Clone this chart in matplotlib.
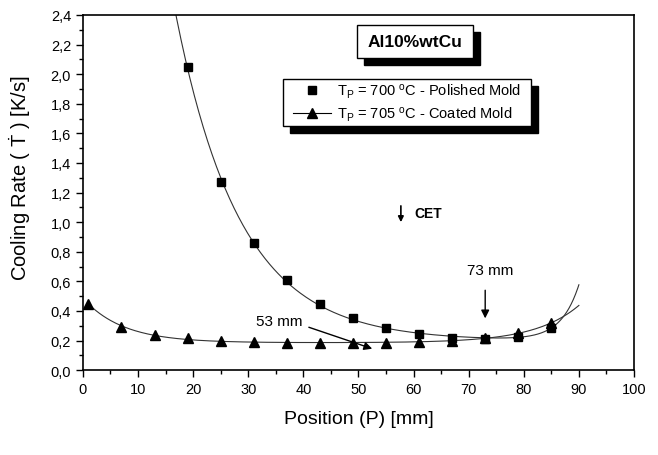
"""
Cooling rate vs position for Al10%wtCu castings
"""
import matplotlib
matplotlib.use('Agg')
import matplotlib.pyplot as plt
import numpy as np
from matplotlib.lines import Line2D
from matplotlib.patches import Rectangle
from matplotlib.ticker import MultipleLocator, FuncFormatter

plt.rcParams['font.family'] = ['Liberation Sans', 'DejaVu Sans']
plt.rcParams['mathtext.fontset'] = 'custom'
plt.rcParams['mathtext.rm'] = 'Liberation Sans'
plt.rcParams['mathtext.it'] = 'Liberation Sans:italic'

# polished mold (squares)
pos_polished = [19, 25, 31, 37, 43, 49, 55, 61, 67, 73, 79, 85]
rate_polished = [2.05, 1.27, 0.86, 0.61, 0.45, 0.35, 0.285, 0.245, 0.22, 0.21, 0.225, 0.285]

# coated mold (triangles)
pos_coated = [1, 7, 13, 19, 25, 31, 37, 43, 49, 55, 61, 67, 73, 79, 85]
rate_coated = [0.45, 0.29, 0.24, 0.215, 0.20, 0.19, 0.185, 0.185, 0.185, 0.185,
               0.19, 0.20, 0.215, 0.25, 0.32]

label_polished = r'T$_\mathrm{P}$ = 700 $^\mathrm{o}$C - Polished Mold'
label_coated = r'T$_\mathrm{P}$ = 705 $^\mathrm{o}$C - Coated Mold'


def fit_curve(x, y):
    """Fit y = a + b*exp(-x/t1) + c*exp((x-90)/t2), returns callable"""
    x = np.asarray(x, float)
    y = np.asarray(y, float)
    best = None
    for t1 in np.arange(3, 25, 0.25):
        for t2 in np.arange(2, 20, 0.25):
            A = np.column_stack([np.ones_like(x), np.exp(-x / t1), np.exp((x - 90) / t2)])
            coef, *_ = np.linalg.lstsq(A, y, rcond=None)
            err = np.sum((A @ coef - y) ** 2)
            if best is None or err < best[0]:
                best = (err, t1, t2, coef)
    _, t1, t2, (a, b, c) = best
    return lambda xx: a + b * np.exp(-xx / t1) + c * np.exp((xx - 90) / t2)


fig = plt.figure(figsize=(6.58, 4.56), dpi=100)
ax = fig.add_axes([0.126, 0.186, 0.8375, 0.779])

f_pol = fit_curve(pos_polished, rate_polished)
xp = np.linspace(10, 90, 400)
ax.plot(xp, f_pol(xp), color='#333333', lw=0.8)

f_coat = fit_curve(pos_coated, rate_coated)
xc = np.linspace(1, 90, 400)
ax.plot(xc, f_coat(xc), color='#333333', lw=0.8)

ax.plot(pos_polished, rate_polished, ls='none', marker='s', ms=6, color='black', zorder=3)
ax.plot(pos_coated, rate_coated, ls='none', marker='^', ms=6.5, color='black', zorder=3)

ax.set_xlim(0, 100)
ax.set_ylim(0, 2.4)
ax.xaxis.set_major_locator(MultipleLocator(10))
ax.xaxis.set_minor_locator(MultipleLocator(5))
ax.yaxis.set_major_locator(MultipleLocator(0.2))
ax.yaxis.set_minor_locator(MultipleLocator(0.1))
ax.yaxis.set_major_formatter(FuncFormatter(lambda v, p: f'{v:.1f}'.replace('.', ',')))
ax.tick_params(which='major', direction='out', length=5, width=1, labelsize=10.5)
ax.tick_params(which='minor', direction='out', length=3, width=1)
for s in ax.spines.values():
    s.set_linewidth(1.2)

ax.set_xlabel('Position (P) [mm]', fontsize=14, labelpad=10)
ax.set_ylabel(r'Cooling Rate ( $\dot{\mathrm{T}}$ ) [K/s]', fontsize=14.5)
ax.yaxis.set_label_coords(-0.091, 0.544)

# title box with shadow
sx, sy = 0.0127, -0.0197
ax.add_patch(Rectangle((0.497 + sx, 0.879 + sy), 0.211, 0.093, transform=ax.transAxes,
                       facecolor='black', edgecolor='black', zorder=4))
ax.add_patch(Rectangle((0.497, 0.879), 0.211, 0.093, transform=ax.transAxes,
                       facecolor='white', edgecolor='black', lw=1, zorder=5))
ax.text(0.6025, 0.9255, 'Al10%wtCu', transform=ax.transAxes, ha='center', va='center',
        fontsize=12.5, fontweight='bold', zorder=6)

# legend box with shadow
ax.add_patch(Rectangle((0.363 + sx, 0.687 + sy), 0.45, 0.133, transform=ax.transAxes,
                       facecolor='black', edgecolor='black', zorder=4))
ax.add_patch(Rectangle((0.363, 0.687), 0.45, 0.133, transform=ax.transAxes,
                       facecolor='white', edgecolor='black', lw=1, zorder=5))
handles = [Line2D([], [], ls='none', marker='s', ms=6, color='black'),
           Line2D([], [], ls='-', lw=0.8, marker='^', ms=6.5, color='black')]
leg = ax.legend(handles, [label_polished, label_coated], loc='center',
                bbox_to_anchor=(0.363, 0.687, 0.45, 0.133), bbox_transform=ax.transAxes,
                frameon=False, fontsize=10.5, handlelength=2.6, handletextpad=0.4,
                labelspacing=0.3, borderaxespad=0)
leg.set_zorder(7)

# annotations
arrow = dict(arrowstyle='-|>', color='black', lw=1, mutation_scale=12, shrinkA=0, shrinkB=0)
ax.annotate('', xy=(52.5, 0.145), xytext=(41, 0.29), arrowprops=arrow)
ax.text(35.6, 0.33, '53 mm', ha='center', va='center', fontsize=11)
ax.annotate('', xy=(73, 0.35), xytext=(73, 0.54), arrowprops=arrow)
ax.text(73.9, 0.68, '73 mm', ha='center', va='center', fontsize=11)
ax.annotate('', xy=(57.7, 1.0), xytext=(57.7, 1.11),
            arrowprops=dict(arrowstyle='-|>', color='black', lw=1.2, mutation_scale=8,
                            shrinkA=0, shrinkB=0))
ax.text(60.1, 1.065, 'CET', ha='left', va='center', fontsize=10, fontweight='bold')

plt.savefig('out.png', dpi=100)
plt.close(fig)
